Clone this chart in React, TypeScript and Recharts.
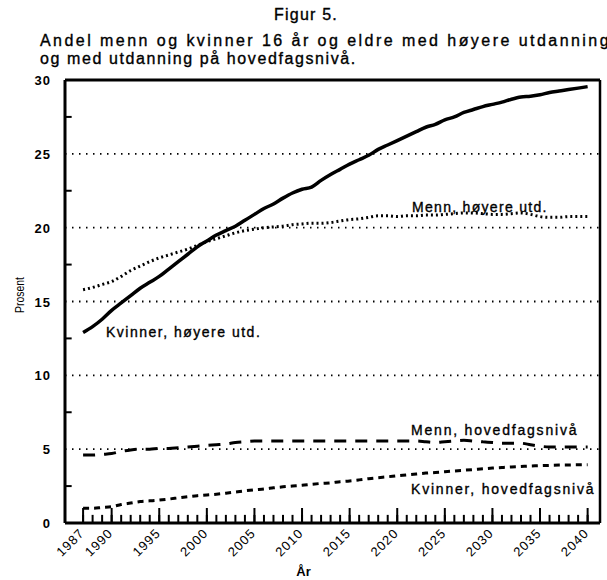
import { LineChart, Line, XAxis, YAxis, ReferenceLine } from "recharts"

const YEARS = [
  1987, 1988, 1989, 1990, 1991, 1992, 1993, 1994, 1995, 1996,
  1997, 1998, 1999, 2000, 2001, 2002, 2003, 2004, 2005, 2006,
  2007, 2008, 2009, 2010, 2011, 2012, 2013, 2014, 2015, 2016,
  2017, 2018, 2019, 2020, 2021, 2022, 2023, 2024, 2025, 2026,
  2027, 2028, 2029, 2030, 2031, 2032, 2033, 2034, 2035, 2036,
  2037, 2038, 2039, 2040,
]

// Kvinner, høyere utd. (solid)
const KVINNER_HOYERE = [
  12.9, 13.3, 13.8, 14.4, 14.9, 15.4, 15.9, 16.3, 16.7, 17.2,
  17.7, 18.2, 18.7, 19.1, 19.5, 19.8, 20.1, 20.5, 20.9, 21.3,
  21.6, 22.0, 22.35, 22.6, 22.75, 23.2, 23.6, 23.95, 24.3, 24.6,
  24.9, 25.3, 25.6, 25.9, 26.2, 26.5, 26.8, 27.0, 27.3, 27.5,
  27.8, 28.0, 28.2, 28.35, 28.5, 28.7, 28.85, 28.9, 29.0, 29.15,
  29.25, 29.35, 29.45, 29.55,
]

// Menn, høyere utd. (dotted)
const MENN_HOYERE = [
  15.8, 15.95, 16.15, 16.35, 16.7, 17.1, 17.4, 17.7, 17.95, 18.15,
  18.35, 18.55, 18.8, 19.05, 19.25, 19.45, 19.65, 19.8, 19.9, 20.0,
  20.05, 20.1, 20.2, 20.25, 20.3, 20.3, 20.35, 20.45, 20.55, 20.6,
  20.7, 20.8, 20.8, 20.75, 20.8, 20.8, 20.85, 20.85, 20.9, 20.95,
  21.0, 21.0, 20.95, 20.9, 20.9, 20.95, 21.0, 20.9, 20.75, 20.7,
  20.7, 20.75, 20.75, 20.75,
]

// Menn, hovedfagsnivå (long dashes)
const MENN_HOVEDFAG = [
  4.6, 4.6, 4.65, 4.7, 4.85, 4.95, 5.0, 5.0, 5.05, 5.05,
  5.1, 5.15, 5.2, 5.25, 5.3, 5.35, 5.45, 5.5, 5.55, 5.55,
  5.55, 5.55, 5.55, 5.55, 5.55, 5.55, 5.55, 5.55, 5.55, 5.55,
  5.55, 5.55, 5.55, 5.55, 5.55, 5.55, 5.5, 5.45, 5.5, 5.55,
  5.6, 5.55, 5.5, 5.45, 5.4, 5.4, 5.4, 5.3, 5.2, 5.15,
  5.15, 5.15, 5.15, 5.15,
]

// Kvinner, hovedfagsnivå (short dashes)
const KVINNER_HOVEDFAG = [
  1.0, 1.0, 1.05, 1.1, 1.25, 1.35, 1.45, 1.5, 1.55, 1.62,
  1.7, 1.78, 1.85, 1.9, 1.95, 2.02, 2.1, 2.18, 2.25, 2.3,
  2.38, 2.45, 2.5, 2.55, 2.62, 2.68, 2.72, 2.8, 2.85, 2.92,
  3.0, 3.07, 3.13, 3.2, 3.26, 3.32, 3.38, 3.42, 3.47, 3.52,
  3.57, 3.62, 3.67, 3.72, 3.76, 3.8, 3.83, 3.86, 3.88, 3.9,
  3.92, 3.93, 3.94, 3.95,
]

const LABELED_YEARS = [1987, 1990, 1995, 2000, 2005, 2010, 2015, 2020, 2025, 2030, 2035, 2040]
const Y_LABELS = [0, 5, 10, 15, 20, 25, 30]
const Y_MINOR = [2.5, 7.5, 12.5, 17.5, 22.5, 27.5]
const GRID_LEVELS = [5, 10, 15, 20, 25]

const X_MIN = 1985.1
const X_MAX = 2041.3
const FONT = '"Liberation Sans", Arial, sans-serif'
const TICK_COLOR = "#000"

const chartData = YEARS.map((year, i) => ({
  year,
  kvinnerHoyere: KVINNER_HOYERE[i],
  mennHoyere: MENN_HOYERE[i],
  mennHovedfag: MENN_HOVEDFAG[i],
  kvinnerHovedfag: KVINNER_HOVEDFAG[i],
}))

// labelled year: tall inward tick + rotated label
function XTick(props: any) {
  const { x, y, payload } = props
  const ax = x + 2
  const ay = y + 11
  return (
    <g>
      <path d={`M${x},${y}L${x},${y - 15}`} stroke={TICK_COLOR} strokeWidth={2} />
      <text
        x={ax}
        y={ay}
        textAnchor="end"
        transform={`rotate(-45 ${ax} ${ay})`}
        fontFamily={FONT}
        fontSize={13}
        letterSpacing={1}
        fill="#000"
      >
        {payload.value}
      </text>
    </g>
  )
}

function YTick(props: any) {
  const { x, y, payload } = props
  return (
    <text x={x - 14} y={y + 5} textAnchor="end" fontFamily={FONT} fontSize={13} fontWeight="bold" letterSpacing={1} fill="#000">
      {payload.value}
    </text>
  )
}

const textStyle: React.CSSProperties = {
  position: "absolute",
  fontFamily: FONT,
  color: "#000",
  whiteSpace: "nowrap",
  lineHeight: 1,
  WebkitTextStroke: "0.35px #000",
}

export default function App() {
  return (
    <div style={{ position: "absolute", left: 0, top: 0, width: 607, height: 580, background: "#fff", overflow: "hidden" }}>
      <LineChart width={607} height={580} data={chartData} margin={{ top: 80, right: 7, bottom: 0, left: 15 }}>
        {GRID_LEVELS.map((v) => (
          <ReferenceLine key={v} y={v} stroke="#000" strokeWidth={1.8} strokeDasharray="1.5 5.5" />
        ))}
        {YEARS.map((yr) => (
          <ReferenceLine key={`xt${yr}`} segment={[{ x: yr, y: 0 }, { x: yr, y: 0.55 }]} stroke={TICK_COLOR} strokeWidth={2} />
        ))}
        {Y_MINOR.map((v) => (
          <ReferenceLine key={`yt${v}`} segment={[{ x: X_MIN, y: v }, { x: X_MIN + 0.7, y: v }]} stroke={TICK_COLOR} strokeWidth={2} />
        ))}
        <ReferenceLine y={30} stroke="#000" strokeWidth={3} />
        <ReferenceLine x={X_MAX} stroke="#000" strokeWidth={2.5} />
        <XAxis
          dataKey="year"
          type="number"
          domain={[X_MIN, X_MAX]}
          ticks={LABELED_YEARS}
          interval={0}
          height={57}
          tickSize={0}
          tickMargin={0}
          tickLine={false}
          tick={<XTick />}
          axisLine={{ stroke: "#000", strokeWidth: 3 }}
        />
        <YAxis
          type="number"
          domain={[0, 30]}
          ticks={Y_LABELS}
          interval={0}
          width={50}
          tickSize={0}
          tickMargin={0}
          tickLine={false}
          tick={<YTick />}
          axisLine={{ stroke: "#000", strokeWidth: 3 }}
        />
        <Line type="monotone" dataKey="kvinnerHoyere" stroke="#000" strokeWidth={3.5} dot={false} isAnimationActive={false} />
        <Line type="monotone" dataKey="mennHoyere" stroke="#000" strokeWidth={3} strokeDasharray="2 3" dot={false} isAnimationActive={false} />
        <Line type="monotone" dataKey="mennHovedfag" stroke="#000" strokeWidth={3} strokeDasharray="12 9" dot={false} isAnimationActive={false} />
        <Line type="monotone" dataKey="kvinnerHovedfag" stroke="#000" strokeWidth={3} strokeDasharray="6 5" dot={false} isAnimationActive={false} />
      </LineChart>

      <div style={{ ...textStyle, left: 0, width: 612, top: 7, textAlign: "center", fontSize: 16, letterSpacing: 1.2 }}>Figur 5.</div>
      <div style={{ ...textStyle, left: 40, top: 33, fontSize: 16, letterSpacing: 2.45 }}>
        Andel menn og kvinner 16 år og eldre med høyere utdanning
      </div>
      <div style={{ ...textStyle, left: 40, top: 51, fontSize: 16, letterSpacing: 1.6 }}>og med utdanning på hovedfagsnivå.</div>

      <div style={{ ...textStyle, left: 412, top: 200, fontSize: 14, letterSpacing: 1.3 }}>Menn, høyere utd.</div>
      <div style={{ ...textStyle, left: 106, top: 325, fontSize: 14, letterSpacing: 1.5 }}>Kvinner, høyere utd.</div>
      <div style={{ ...textStyle, left: 411, top: 423, fontSize: 14, letterSpacing: 1.8 }}>Menn, hovedfagsnivå</div>
      <div style={{ ...textStyle, left: 411, top: 482, fontSize: 14, letterSpacing: 1.8 }}>Kvinner, hovedfagsnivå</div>

      <div style={{ ...textStyle, left: 19, top: 295, fontSize: 13, WebkitTextStroke: "0", transform: "translate(-50%, -50%) rotate(-90deg) scaleX(0.8)" }}>Prosent</div>
      <div style={{ ...textStyle, left: 0, width: 607, top: 565, textAlign: "center", fontSize: 13, fontWeight: "bold", WebkitTextStroke: "0" }}>År</div>
    </div>
  )
}
